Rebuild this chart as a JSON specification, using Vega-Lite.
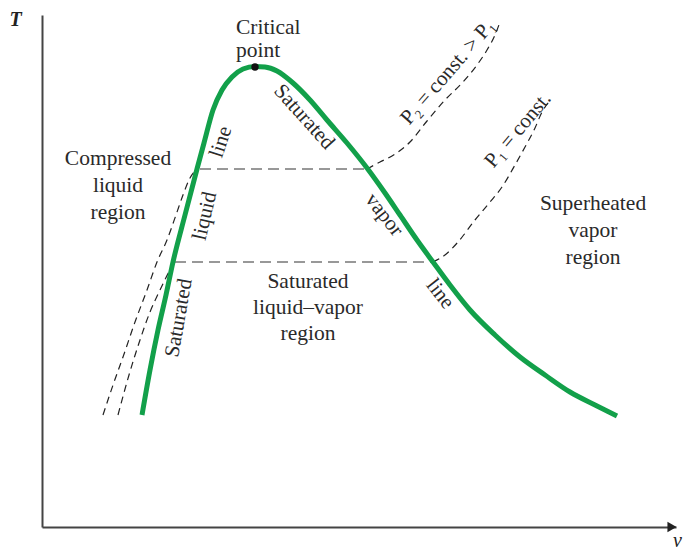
{
  "$schema": "https://vega.github.io/schema/vega-lite/v6.json",
  "width": 634,
  "height": 512,
  "autosize": {"type": "none"},
  "padding": {"left": 42, "top": 15, "right": 8, "bottom": 23},
  "background": "white",
  "config": {"view": {"stroke": null}},
  "datasets": {
    "dome": [
      {"v": 100, "T": 112}, {"v": 108, "T": 157}, {"v": 116, "T": 197}, {"v": 124, "T": 232},
      {"v": 131, "T": 265}, {"v": 143, "T": 312}, {"v": 155, "T": 358}, {"v": 162, "T": 384},
      {"v": 171, "T": 417}, {"v": 180, "T": 437}, {"v": 190, "T": 450}, {"v": 201, "T": 458},
      {"v": 213, "T": 460.5}, {"v": 223, "T": 460}, {"v": 235, "T": 456}, {"v": 251, "T": 444},
      {"v": 268, "T": 427}, {"v": 285, "T": 407}, {"v": 305, "T": 384}, {"v": 325, "T": 359},
      {"v": 343, "T": 334}, {"v": 358, "T": 312}, {"v": 375, "T": 287}, {"v": 391, "T": 265},
      {"v": 408, "T": 242}, {"v": 428, "T": 217}, {"v": 453, "T": 192}, {"v": 478, "T": 170},
      {"v": 503, "T": 152}, {"v": 528, "T": 135}, {"v": 553, "T": 122}, {"v": 575, "T": 111}
    ],
    "isobars": [
      {"seg": "p1c", "kind": "curve", "v": 76, "T": 112}, {"seg": "p1c", "kind": "curve", "v": 87, "T": 152},
      {"seg": "p1c", "kind": "curve", "v": 98, "T": 187}, {"seg": "p1c", "kind": "curve", "v": 108, "T": 215},
      {"seg": "p1c", "kind": "curve", "v": 118, "T": 237}, {"seg": "p1c", "kind": "curve", "v": 128, "T": 257},
      {"seg": "p1c", "kind": "curve", "v": 133, "T": 265},
      {"seg": "p1h", "kind": "flat", "v": 133, "T": 265}, {"seg": "p1h", "kind": "flat", "v": 391, "T": 265},
      {"seg": "p1s", "kind": "curve", "v": 391, "T": 265}, {"seg": "p1s", "kind": "curve", "v": 403, "T": 272},
      {"seg": "p1s", "kind": "curve", "v": 416, "T": 285}, {"seg": "p1s", "kind": "curve", "v": 433, "T": 307},
      {"seg": "p1s", "kind": "curve", "v": 448, "T": 325}, {"seg": "p1s", "kind": "curve", "v": 460, "T": 340},
      {"seg": "p1s", "kind": "curve", "v": 473, "T": 362}, {"seg": "p1s", "kind": "curve", "v": 483, "T": 380},
      {"seg": "p1s", "kind": "curve", "v": 493, "T": 399}, {"seg": "p1s", "kind": "curve", "v": 500, "T": 415},
      {"seg": "p1s", "kind": "curve", "v": 506, "T": 424},
      {"seg": "p2c", "kind": "curve", "v": 61, "T": 112}, {"seg": "p2c", "kind": "curve", "v": 71, "T": 142},
      {"seg": "p2c", "kind": "curve", "v": 81, "T": 170}, {"seg": "p2c", "kind": "curve", "v": 93, "T": 205},
      {"seg": "p2c", "kind": "curve", "v": 105, "T": 237}, {"seg": "p2c", "kind": "curve", "v": 115, "T": 265},
      {"seg": "p2c", "kind": "curve", "v": 125, "T": 287}, {"seg": "p2c", "kind": "curve", "v": 134, "T": 312},
      {"seg": "p2c", "kind": "curve", "v": 141, "T": 332}, {"seg": "p2c", "kind": "curve", "v": 148, "T": 349},
      {"seg": "p2c", "kind": "curve", "v": 155, "T": 358},
      {"seg": "p2h", "kind": "flat", "v": 158, "T": 358}, {"seg": "p2h", "kind": "flat", "v": 325, "T": 358},
      {"seg": "p2s", "kind": "curve", "v": 325, "T": 358}, {"seg": "p2s", "kind": "curve", "v": 338, "T": 365},
      {"seg": "p2s", "kind": "curve", "v": 350, "T": 371}, {"seg": "p2s", "kind": "curve", "v": 368, "T": 385},
      {"seg": "p2s", "kind": "curve", "v": 385, "T": 406}, {"seg": "p2s", "kind": "curve", "v": 403, "T": 427},
      {"seg": "p2s", "kind": "curve", "v": 421, "T": 445}, {"seg": "p2s", "kind": "curve", "v": 435, "T": 462},
      {"seg": "p2s", "kind": "curve", "v": 445, "T": 477}, {"seg": "p2s", "kind": "curve", "v": 453, "T": 492},
      {"seg": "p2s", "kind": "curve", "v": 458, "T": 505}
    ],
    "critlabel": [
      {"label": "Critical\npoint", "v": 194, "T": 493}
    ],
    "blocks": [
      {"label": "Compressed\nliquid\nregion", "v": 76, "T": 362},
      {"label": "Superheated\nvapor\nregion", "v": 551, "T": 317}
    ],
    "midblock": [
      {"label": "Saturated\nliquid–vapor\nregion", "v": 266, "T": 239}
    ],
    "rotated": [
      {"label": "line", "v": 179, "T": 385, "angle": -72},
      {"label": "liquid", "v": 163, "T": 311, "angle": -77},
      {"label": "Saturated", "v": 137, "T": 209, "angle": -80},
      {"label": "Saturated", "v": 262, "T": 410, "angle": 48},
      {"label": "vapor", "v": 342, "T": 312, "angle": 52},
      {"label": "line", "v": 398, "T": 233, "angle": 52},
      {"label": "P₂ = const. > P₁", "v": 406, "T": 455, "angle": -49},
      {"label": "P₁ = const.", "v": 476, "T": 397, "angle": -50}
    ],
    "critical": [{"v": 213, "T": 460}],
    "arrow": [{"v": 630, "T": 0}]
  },
  "encoding": {
    "x": {
      "field": "v", "type": "quantitative",
      "scale": {"domain": [0, 634], "nice": false, "zero": false},
      "axis": {
        "domain": true, "domainColor": "#444", "domainWidth": 2, "ticks": false, "labels": false, "grid": false,
        "title": "v", "titleFont": "Liberation Serif", "titleFontStyle": "italic", "titleFontWeight": "normal",
        "titleFontSize": 20, "titleColor": "#222", "titleX": 635, "titleY": 19, "titleAlign": "center", "titleBaseline": "alphabetic"
      }
    },
    "y": {
      "field": "T", "type": "quantitative",
      "scale": {"domain": [0, 512], "nice": false, "zero": false},
      "axis": {
        "domain": true, "domainColor": "#444", "domainWidth": 2, "ticks": false, "labels": false, "grid": false,
        "title": "T", "titleFont": "Liberation Serif", "titleFontStyle": "italic", "titleFontWeight": "bold",
        "titleFontSize": 20, "titleColor": "#222", "titleAngle": 0, "titleX": -27, "titleY": 4, "titleAlign": "center", "titleBaseline": "middle"
      }
    }
  },
  "layer": [
    {
      "data": {"name": "isobars"},
      "transform": [{"filter": "datum.kind === 'curve'"}],
      "mark": {"type": "line", "interpolate": "monotone", "stroke": "#222", "strokeWidth": 1.2, "strokeDash": [7, 5]},
      "encoding": {"detail": {"field": "seg"}, "order": {"field": "v", "type": "quantitative"}}
    },
    {
      "data": {"name": "isobars"},
      "transform": [{"filter": "datum.kind === 'flat'"}],
      "mark": {"type": "line", "stroke": "#333", "strokeWidth": 1.2, "strokeDash": [11, 6]},
      "encoding": {"detail": {"field": "seg"}}
    },
    {
      "data": {"name": "dome"},
      "mark": {"type": "line", "interpolate": "monotone", "stroke": "#12a04a", "strokeWidth": 5, "strokeCap": "butt"},
      "encoding": {"order": {"field": "v", "type": "quantitative"}}
    },
    {
      "data": {"name": "critical"},
      "mark": {"type": "point", "filled": true, "color": "#111", "size": 55, "opacity": 1}
    },
    {
      "data": {"name": "arrow"},
      "mark": {"type": "point", "shape": "triangle-right", "filled": true, "color": "#222", "size": 110, "opacity": 1}
    },
    {
      "data": {"name": "critlabel"},
      "mark": {"type": "text", "font": "Liberation Serif", "fontSize": 21.5, "color": "#2a2a2a", "align": "left", "baseline": "alphabetic", "lineBreak": "\n", "lineHeight": 23},
      "encoding": {"text": {"field": "label"}}
    },
    {
      "data": {"name": "blocks"},
      "mark": {"type": "text", "font": "Liberation Serif", "fontSize": 21.5, "color": "#2a2a2a", "align": "center", "baseline": "alphabetic", "lineBreak": "\n", "lineHeight": 27},
      "encoding": {"text": {"field": "label"}}
    },
    {
      "data": {"name": "midblock"},
      "mark": {"type": "text", "font": "Liberation Serif", "fontSize": 21.5, "color": "#2a2a2a", "align": "center", "baseline": "alphabetic", "lineBreak": "\n", "lineHeight": 26},
      "encoding": {"text": {"field": "label"}}
    },
    {
      "data": {"name": "rotated"},
      "mark": {"type": "text", "font": "Liberation Serif", "fontSize": 21, "color": "#2a2a2a", "align": "center", "baseline": "middle"},
      "encoding": {
        "text": {"field": "label"},
        "angle": {"field": "angle", "type": "quantitative", "scale": null}
      }
    }
  ]
}
